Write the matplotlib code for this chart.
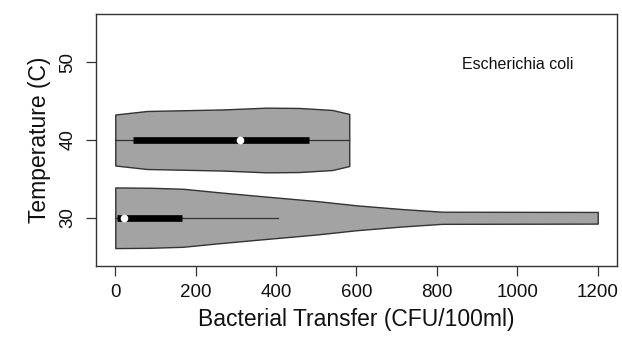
#Importing numpy and pyplot
import numpy as np
import matplotlib.pyplot as plt

plt.rcParams['font.family'] = ['Liberation Sans', 'DejaVu Sans']

# temperature groups (y positions of the violins)
temps = [30, 40]

# violin outline: transfer values along the x axis and half widths (in deg C)
v30_x = [0, 87, 169, 253, 359, 501, 600, 714, 813, 1200]
v30_hw = [3.9, 3.86, 3.73, 3.3, 2.8, 2.15, 1.6, 1.12, 0.78, 0.75]
v40_x = [0, 79, 268, 377, 458, 540, 582]
v40_hw = [3.28, 3.73, 3.93, 4.16, 4.12, 3.86, 3.35]

# box summary: whisker low, q1, median, q3, whisker high
box30 = [0, 5, 22, 166, 404]
box40 = [0, 45, 310, 481, 582]

fig = plt.figure(figsize=(6.22, 3.45), dpi=100)
ax = fig.add_axes([0.1543, 0.229, 0.8377, 0.7304])

fill_col = '#a3a3a3'
edge_col = '#333333'
for t, vx, vhw, bx in zip(temps, [v30_x, v40_x], [v30_hw, v40_hw], [box30, box40]):
	vx = np.array(vx)
	vhw = np.array(vhw)
	ax.fill_between(vx, t - vhw, t + vhw, facecolor=fill_col, edgecolor=edge_col, linewidth=1.0, zorder=2)
	ax.plot([bx[0], bx[4]], [t, t], color=edge_col, linewidth=0.9, zorder=3) #whiskers
	ax.plot([bx[1], bx[3]], [t, t], color='black', linewidth=4.8, solid_capstyle='butt', zorder=4) #box
	ax.plot(bx[2], t, 'o', color='white', markersize=5.5, markeredgewidth=0, zorder=5) #median

ax.text(1000, 49.7, 'Escherichia coli', fontsize=11.5, ha='center', va='center', color='#111111')

ax.set_xlim(-48, 1248)
ax.set_ylim(23.8, 56.2)
ax.set_xticks([0, 200, 400, 600, 800, 1000, 1200])
ax.set_yticks([30, 40, 50])
ax.set_yticklabels(['30', '40', '50'], rotation=90, va='center')
ax.tick_params(axis='both', direction='out', length=7, width=0.9, color=edge_col, labelsize=13.5, labelcolor='#111111')
ax.tick_params(axis='x', pad=6)
ax.tick_params(axis='y', pad=7)
for s in ax.spines.values():
	s.set_color(edge_col)
	s.set_linewidth(1.0)

ax.set_xlabel('Bacterial Transfer (CFU/100ml)', fontsize=16.5, color='#111111', labelpad=5)
ax.set_ylabel('Temperature (C)', fontsize=16.5, color='#111111', labelpad=6)

plt.savefig('out.png', dpi=100)
